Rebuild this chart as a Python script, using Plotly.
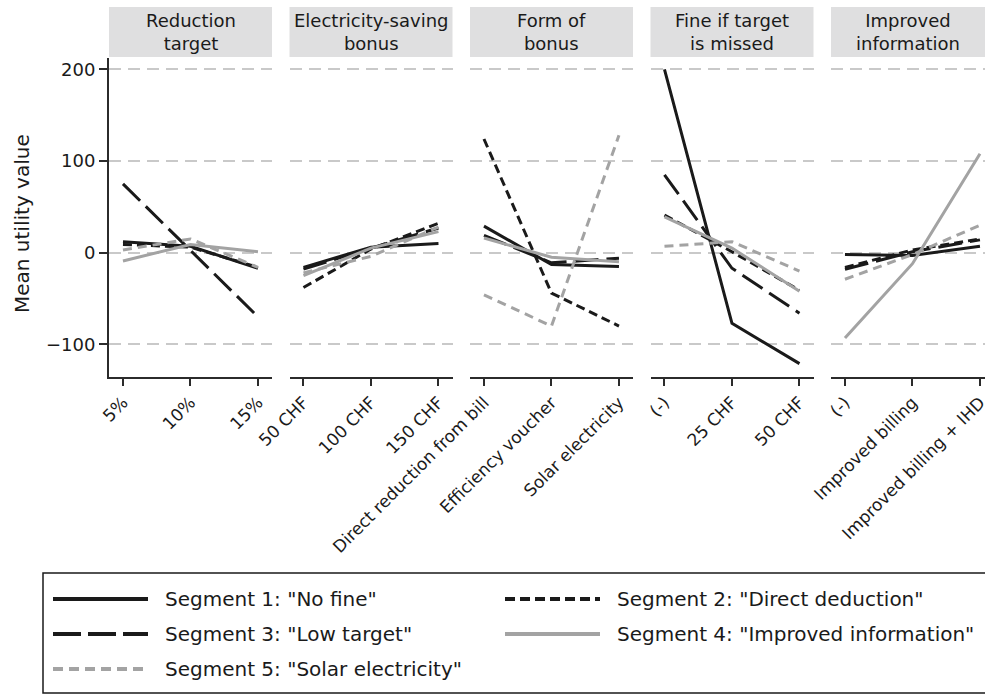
import plotly.graph_objects as go

# ---------------- data ----------------
panel_titles = ["Reduction<br>target", "Electricity-saving<br>bonus", "Form of<br>bonus",
                "Fine if target<br>is missed", "Improved<br>information"]

cat_target = ["5%", "10%", "15%"]
cat_bonus = ["50 CHF", "100 CHF", "150 CHF"]
cat_form = ["Direct reduction from bill", "Efficiency voucher", "Solar electricity"]
cat_fine = ["(-)", "25 CHF", "50 CHF"]
cat_info = ["(-)", "Improved billing", "Improved billing + IHD"]
categories = [cat_target, cat_bonus, cat_form, cat_fine, cat_info]

seg1_no_fine = [[12, 7, -17], [-16, 6, 10], [29, -13, -15], [200, -77, -121], [-2, -3, 7]]
seg2_direct = [[9, 6, -16], [-38, 4, 32], [124, -44, -80], [41, 1, -41], [-16, 3, 15]]
seg3_low_target = [[75, 2, -70], [-18, 5, 27], [19, -11, -6], [85, -17, -66], [-18, 1, 14]]
seg4_info = [[-9, 9, 1], [-25, 5, 23], [16, -5, -10], [39, 5, -42], [-93, -12, 108]]
seg5_solar = [[3, 15, -16], [-22, -4, 28], [-46, -80, 128], [7, 12, -20], [-29, -2, 30]]

segment_names = ['Segment 1: "No fine"', 'Segment 2: "Direct deduction"',
                 'Segment 3: "Low target"', 'Segment 4: "Improved information"',
                 'Segment 5: "Solar electricity"']
segment_values = [seg1_no_fine, seg2_direct, seg3_low_target, seg4_info, seg5_solar]

y_ticks = [-100, 0, 100, 200]

# ---------------- styles ----------------
W, H = 985, 695
BLACK = "#1a1a1a"
GRAY = "#a3a3a3"
FONT = "DejaVu Sans"
styles = [
    dict(color=BLACK, dash="solid"),
    dict(color=BLACK, dash="9px,5px"),
    dict(color=BLACK, dash="24px,8px"),
    dict(color=GRAY, dash="solid"),
    dict(color=GRAY, dash="9px,6px"),
]
legend_dash = ["solid", "10px,5px", "28px,7px", "solid", "10px,6px"]

def px_x(v):
    return v / W

def px_y(v):
    return 1 - v / H

panel_x = [(109, 272), (289.5, 452.5), (470, 633), (650.5, 813.5), (831, 985)]
plot_top, plot_bottom = 57.7, 377
ppu = 67.5  # pixels per category unit
x_lo = -0.207

fig = go.Figure()
layout = dict(
    width=W, height=H, margin=dict(l=0, r=0, t=0, b=0, pad=0, autoexpand=False),
    paper_bgcolor="white", plot_bgcolor="white", showlegend=False,
    font=dict(family=FONT, color=BLACK),
)
ydom = [px_y(plot_bottom), px_y(plot_top)]
shapes = []
annotations = []

for i in range(5):
    sfx = "" if i == 0 else str(i + 1)
    x0, x1 = panel_x[i]
    x_hi = x_lo + (x1 - x0) / ppu
    for s in range(5):
        fig.add_trace(go.Scatter(
            x=categories[i], y=segment_values[s][i], mode="lines",
            name=segment_names[s], xaxis="x" + sfx, yaxis="y" + sfx,
            line=dict(color=styles[s]["color"], dash=styles[s]["dash"], width=3),
            hoverinfo="skip",
        ))
    layout["xaxis" + sfx] = dict(
        domain=[px_x(x0), px_x(x1)], anchor="y" + sfx, type="category",
        categoryorder="array", categoryarray=categories[i],
        range=[x_lo, x_hi], showgrid=False, zeroline=False, automargin=False,
        showline=True, linecolor="#2b2b2b", linewidth=2,
        ticks="outside", ticklen=7, tickwidth=1.5, tickcolor="#2b2b2b",
        tickangle=-45, tickfont=dict(family=FONT, size=17, color=BLACK),
        fixedrange=True,
    )
    layout["yaxis" + sfx] = dict(
        domain=ydom, anchor="x" + sfx, range=[-135.6, 212.7], automargin=False,
        tickvals=y_ticks, showgrid=True, gridcolor="#c9c9c9", gridwidth=1.5,
        griddash="12px,7px", zeroline=False,
        showline=(i == 0), linecolor="#2b2b2b", linewidth=2,
        ticks="outside" if i == 0 else "", ticklen=8, tickwidth=1.5, tickcolor="#2b2b2b",
        showticklabels=(i == 0), tickfont=dict(family=FONT, size=18, color=BLACK),
        fixedrange=True,
    )
    # header box
    shapes.append(dict(type="rect", xref="paper", yref="paper",
                       x0=px_x(x0), x1=px_x(x1), y0=px_y(57), y1=px_y(7),
                       fillcolor="#dfdfe0", line=dict(width=0), layer="below"))
    annotations.append(dict(xref="paper", yref="paper", x=px_x((x0 + x1) / 2), y=px_y(32),
                            text=panel_titles[i], showarrow=False, xanchor="center",
                            yanchor="middle", font=dict(family=FONT, size=18, color=BLACK)))

# y axis title
annotations.append(dict(xref="paper", yref="paper", x=px_x(22), y=px_y(224),
                        text="Mean utility value", showarrow=False, textangle=-90,
                        xanchor="center", yanchor="middle",
                        font=dict(family=FONT, size=20, color=BLACK)))

# legend box (drawn manually)
shapes.append(dict(type="rect", xref="paper", yref="paper",
                   x0=px_x(43), x1=px_x(995), y0=px_y(693), y1=px_y(573),
                   line=dict(color="#1a1a1a", width=1.5), fillcolor="white"))
legend_pos = [(53, 599), (505, 599), (53, 634), (505, 634), (53, 669)]
for s in range(5):
    lx, ly = legend_pos[s]
    shapes.append(dict(type="line", xref="paper", yref="paper",
                       x0=px_x(lx), x1=px_x(lx + 95), y0=px_y(ly), y1=px_y(ly),
                       line=dict(color=styles[s]["color"], width=4, dash=legend_dash[s])))
    annotations.append(dict(xref="paper", yref="paper", x=px_x(lx + 110), y=px_y(ly),
                            text=segment_names[s], showarrow=False, xanchor="left",
                            yanchor="middle", font=dict(family=FONT, size=20, color=BLACK)))

layout["shapes"] = shapes
layout["annotations"] = annotations
fig.update_layout(**layout)
fig.write_html("out.html", config={"displayModeBar": False},
               post_script="document.body.style.margin='0';document.body.style.overflow='hidden';")
